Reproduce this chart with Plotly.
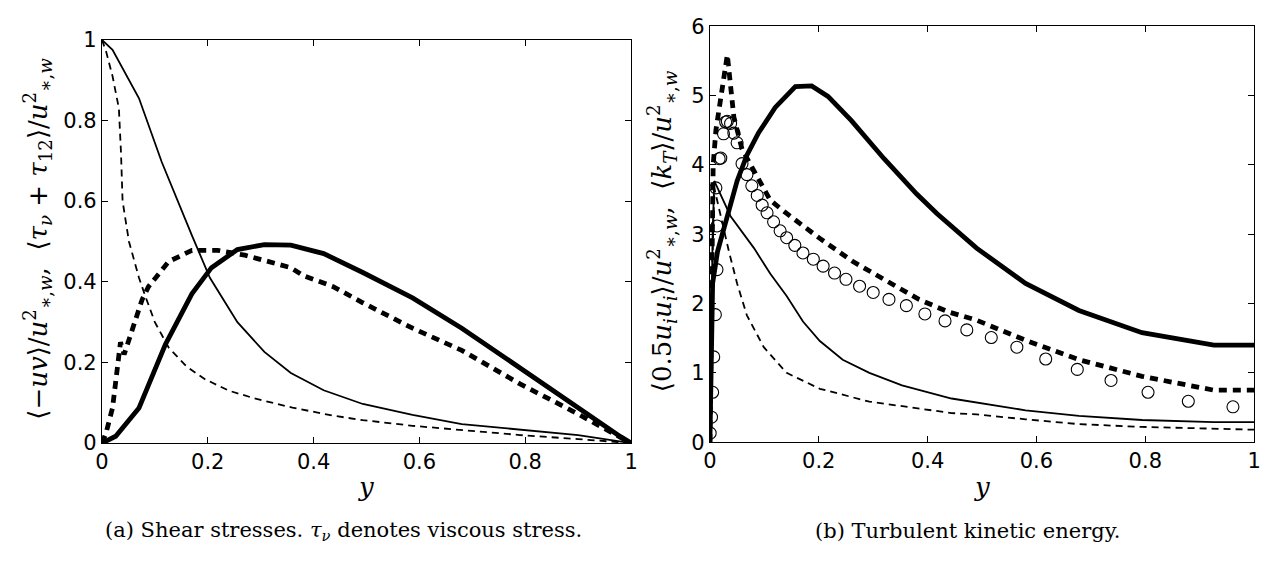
import plotly.graph_objects as go

# ---------------- Panel (a): shear stresses ----------------
a_tot_x = [0, 0.02, 0.07, 0.113, 0.17, 0.204, 0.256, 0.307, 0.357, 0.419, 0.493, 0.587, 0.68, 0.79, 0.9, 1.0]
a_tot_y = [1, 0.975, 0.855, 0.697, 0.515, 0.41, 0.30, 0.226, 0.174, 0.131, 0.097, 0.070, 0.047, 0.033, 0.02, 0.0]

a_totd_x = [0, 0.008, 0.02, 0.032, 0.036, 0.039, 0.051, 0.07, 0.082, 0.1, 0.126, 0.16, 0.194, 0.24, 0.288,
            0.36, 0.437, 0.493, 0.587, 0.68, 0.79, 0.9, 1.0]
a_totd_y = [1, 0.97, 0.91, 0.83, 0.72, 0.6, 0.5, 0.41, 0.364, 0.3, 0.237, 0.19, 0.159, 0.13, 0.111,
            0.088, 0.068, 0.057, 0.043, 0.032, 0.02, 0.01, 0.0]

a_uv_x = [0, 0.026, 0.07, 0.12, 0.17, 0.207, 0.256, 0.307, 0.357, 0.419, 0.493, 0.587, 0.68, 0.79, 0.89, 0.98, 1.0]
a_uv_y = [0, 0.017, 0.087, 0.245, 0.37, 0.435, 0.48, 0.492, 0.491, 0.47, 0.423, 0.36, 0.285, 0.186, 0.095, 0.016, 0.0]

a_uvd_x = [0, 0.0075, 0.02, 0.03, 0.035, 0.042, 0.076, 0.088, 0.126, 0.17, 0.219, 0.27, 0.357, 0.381, 0.437,
           0.493, 0.587, 0.68, 0.79, 0.89, 0.966, 1.0]
a_uvd_y = [0, 0.024, 0.087, 0.20, 0.25, 0.22, 0.356, 0.388, 0.45, 0.478, 0.478, 0.466, 0.435, 0.415, 0.388,
           0.348, 0.285, 0.23, 0.147, 0.079, 0.024, 0.0]

# ---------------- Panel (b): turbulent kinetic energy ----------------
b_ks_x = [0, 0.002, 0.005, 0.014, 0.026, 0.038, 0.05, 0.068, 0.089, 0.12, 0.157, 0.187, 0.217, 0.26, 0.32,
          0.38, 0.417, 0.49, 0.58, 0.678, 0.794, 0.926, 1.0]
b_ks_y = [0, 1.37, 2.29, 2.75, 3.07, 3.44, 3.77, 4.14, 4.46, 4.83, 5.13, 5.14, 4.99, 4.64, 4.09,
          3.58, 3.3, 2.8, 2.29, 1.9, 1.58, 1.4, 1.4]

b_kd_x = [0, 0.002, 0.004, 0.006, 0.011, 0.017, 0.026, 0.032, 0.044, 0.059, 0.075, 0.111, 0.141, 0.202, 0.262,
          0.323, 0.384, 0.438, 0.49, 0.58, 0.678, 0.794, 0.926, 1.0]
b_kd_y = [0, 2.0, 3.2, 4.0, 4.5, 4.8, 5.2, 5.59, 4.69, 4.23, 4.0, 3.49, 3.3, 2.94, 2.61,
          2.34, 2.06, 1.88, 1.76, 1.47, 1.19, 0.95, 0.75, 0.75]

b_rs_x = [0, 0.002, 0.005, 0.008, 0.038, 0.081, 0.111, 0.141, 0.171, 0.202, 0.244, 0.293, 0.353, 0.444, 0.49,
          0.58, 0.678, 0.794, 0.926, 1.0]
b_rs_y = [0, 1.5, 3.0, 3.77, 3.26, 2.80, 2.43, 2.11, 1.74, 1.46, 1.19, 1.0, 0.82, 0.63, 0.57,
          0.46, 0.38, 0.32, 0.29, 0.29]

b_rd_x = [0, 0.003, 0.008, 0.02, 0.035, 0.05, 0.068, 0.099, 0.141, 0.202, 0.293, 0.444, 0.49, 0.58, 0.678,
          0.794, 0.926, 1.0]
b_rd_y = [0, 2.0, 3.67, 3.26, 2.75, 2.29, 1.83, 1.37, 1.0, 0.77, 0.585, 0.42, 0.40, 0.33, 0.26,
          0.22, 0.19, 0.18]

b_dns_x = [0.0005, 0.003, 0.005, 0.007, 0.01, 0.013, 0.013, 0.011, 0.017, 0.02, 0.025, 0.029, 0.032, 0.038,
           0.044, 0.05, 0.059, 0.068, 0.077, 0.087, 0.096, 0.105, 0.117, 0.129, 0.141, 0.156, 0.171, 0.19,
           0.208, 0.229, 0.25, 0.275, 0.3, 0.329, 0.361, 0.395, 0.432, 0.472, 0.517, 0.564, 0.617,
           0.675, 0.737, 0.805, 0.879, 0.961]
b_dns_y = [0.13, 0.36, 0.72, 1.23, 1.84, 2.49, 3.12, 3.67, 4.09, 4.1, 4.45, 4.62, 4.63, 4.6,
           4.46, 4.32, 4.02, 3.86, 3.70, 3.56, 3.42, 3.31, 3.18, 3.05, 2.95, 2.84, 2.73, 2.64,
           2.54, 2.44, 2.35, 2.25, 2.16, 2.06, 1.97, 1.85, 1.75, 1.62, 1.51, 1.37, 1.2,
           1.05, 0.89, 0.72, 0.59, 0.51]

x_ticks = [0, 0.2, 0.4, 0.6, 0.8, 1.0]
x_tick_text = ["0", "0.2", "0.4", "0.6", "0.8", "1"]
a_y_ticks = [0, 0.2, 0.4, 0.6, 0.8, 1.0]
a_y_tick_text = ["0", "0.2", "0.4", "0.6", "0.8", "1"]
b_y_ticks = [0, 1, 2, 3, 4, 5, 6]
b_y_tick_text = ["0", "1", "2", "3", "4", "5", "6"]

W, H = 1276, 572
thin = 1.8
thick = 4.8

fig = go.Figure()

def line(x, y, xa, ya, width, dash):
    fig.add_trace(go.Scatter(x=x, y=y, mode="lines", xaxis=xa, yaxis=ya,
                             line=dict(color="black", width=width, dash=dash),
                             showlegend=False, hoverinfo="skip"))

line(a_tot_x, a_tot_y, "x", "y", thin, "solid")
line(a_totd_x, a_totd_y, "x", "y", thin, "7px,5px")
line(a_uv_x, a_uv_y, "x", "y", thick, "solid")
line(a_uvd_x, a_uvd_y, "x", "y", thick, "8px,6px")

line(b_rs_x, b_rs_y, "x2", "y2", thin, "solid")
line(b_rd_x, b_rd_y, "x2", "y2", thin, "7px,5px")
line(b_ks_x, b_ks_y, "x2", "y2", thick, "solid")
line(b_kd_x, b_kd_y, "x2", "y2", thick, "8px,6px")
fig.add_trace(go.Scatter(x=b_dns_x, y=b_dns_y, mode="markers", xaxis="x2", yaxis="y2",
                         marker=dict(symbol="circle-open", size=12, color="black",
                                     line=dict(width=1.1, color="black")),
                         showlegend=False, hoverinfo="skip"))

def px_x(p):
    return p / W

def px_y(p):
    return (H - p) / H

tickfont = dict(family="DejaVu Sans, Arial, sans-serif", size=21, color="black")
common_axis = dict(showline=True, linecolor="black", linewidth=1, mirror="ticks",
                   ticks="inside", ticklen=6, tickcolor="black", tickwidth=1,
                   showgrid=False, zeroline=False, tickfont=tickfont)

fig.update_layout(
    width=W, height=H,
    margin=dict(l=0, r=0, t=0, b=0),
    paper_bgcolor="white", plot_bgcolor="white",
    xaxis=dict(domain=[px_x(96), px_x(631)], range=[0, 1], tickvals=x_ticks, ticktext=x_tick_text,
               anchor="y", **common_axis),
    yaxis=dict(domain=[px_y(450), px_y(29)], range=[0, 1], tickvals=a_y_ticks, ticktext=a_y_tick_text,
               anchor="x", **common_axis),
    xaxis2=dict(domain=[px_x(710.7), px_x(1261)], range=[0, 1], tickvals=x_ticks, ticktext=x_tick_text,
                anchor="y2", **common_axis),
    yaxis2=dict(domain=[px_y(449), px_y(15)], range=[0, 6], tickvals=b_y_ticks, ticktext=b_y_tick_text,
                anchor="x2", **common_axis),
)

serif = "DejaVu Serif, Liberation Serif, serif"
ustar = "<i>u</i><sup>2</sup><sub>∗,<i>w</i></sub>"
title_a = "⟨−<i>uv</i>⟩/" + ustar + ",  ⟨<i>τ</i><sub><i>ν</i></sub> + <i>τ</i><sub>12</sub>⟩/" + ustar
title_b = "⟨0.5<i>u</i><sub><i>i</i></sub><i>u</i><sub><i>i</i></sub>⟩/" + ustar + ",  ⟨<i>k</i><sub><i>T</i></sub>⟩/" + ustar

ann = []
ann.append(dict(text=title_a, x=px_x(30), y=px_y(237), xref="paper", yref="paper", textangle=-90,
                showarrow=False, xanchor="center", yanchor="middle", font=dict(family=serif, size=26, color="black")))
ann.append(dict(text=title_b, x=px_x(662), y=px_y(229), xref="paper", yref="paper", textangle=-90,
                showarrow=False, xanchor="center", yanchor="middle", font=dict(family=serif, size=26, color="black")))
ann.append(dict(text="<i>y</i>", x=px_x(363), y=px_y(496), xref="paper", yref="paper",
                showarrow=False, xanchor="center", yanchor="middle", font=dict(family=serif, size=26, color="black")))
ann.append(dict(text="<i>y</i>", x=px_x(986), y=px_y(496), xref="paper", yref="paper",
                showarrow=False, xanchor="center", yanchor="middle", font=dict(family=serif, size=26, color="black")))
ann.append(dict(text="(a) Shear stresses. <i>τ</i><sub><i>ν</i></sub> denotes viscous stress.",
                x=px_x(340), y=px_y(542), xref="paper", yref="paper",
                showarrow=False, xanchor="center", yanchor="middle", font=dict(family=serif, size=21, color="black")))
ann.append(dict(text="(b) Turbulent kinetic energy.",
                x=px_x(971), y=px_y(542), xref="paper", yref="paper",
                showarrow=False, xanchor="center", yanchor="middle", font=dict(family=serif, size=21, color="black")))
fig.update_layout(annotations=ann)

fig.write_html("out.html")
